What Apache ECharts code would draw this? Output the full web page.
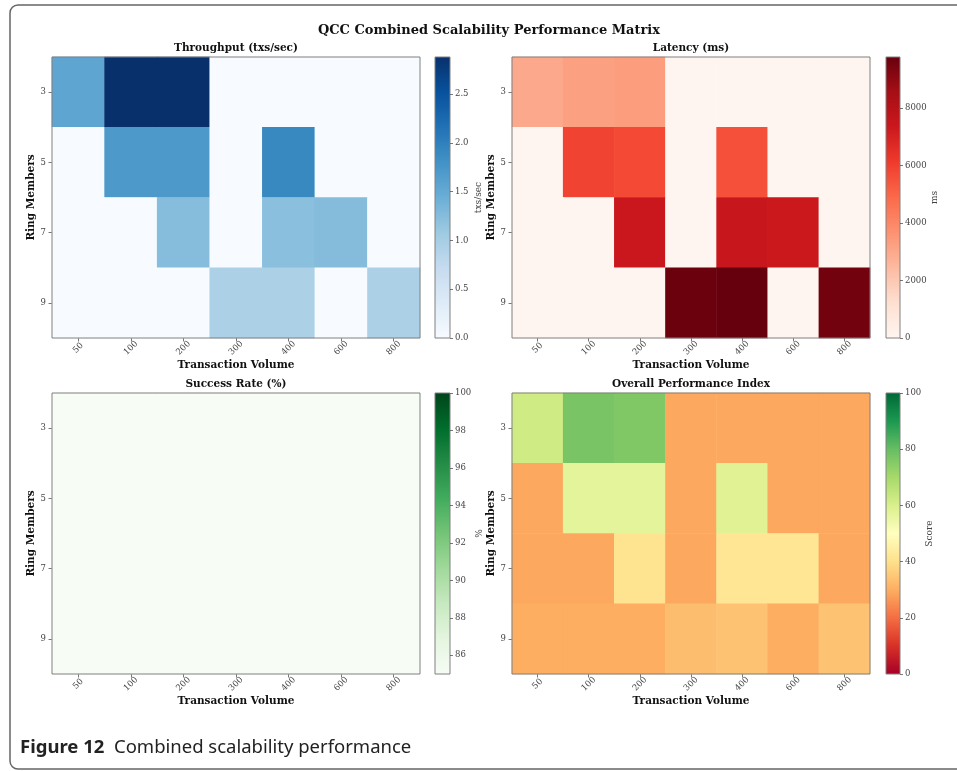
<!DOCTYPE html>
<html><head><meta charset="utf-8">
<script src="https://cdn.jsdelivr.net/npm/echarts@6/dist/echarts.min.js"></script>
<style>html,body{margin:0;padding:0;background:#fff;overflow:hidden}#c{width:957px;height:771px}</style>
</head><body><div id="c"></div>
<script>
// ---- data ----
const volumes = ['50', '100', '200', '300', '400', '600', '800'];
const ringMembers = ['3', '5', '7', '9'];
const throughput = [
  [1.55, 2.88, 2.88, 0, 0, 0, 0],
  [0, 1.70, 1.70, 0, 1.90, 0, 0],
  [0, 0, 1.25, 0, 1.22, 1.26, 0],
  [0, 0, 0, 0.95, 0.95, 0, 0.95]
];
const latency = [
  [3000, 3250, 3350, 0, 0, 0, 0],
  [0, 5900, 5750, 0, 5550, 0, 0],
  [0, 0, 7400, 0, 7450, 7350, 0],
  [0, 0, 0, 9700, 9770, 0, 9550]
];
const successRate = [
  [85, 85, 85, 85, 85, 85, 85],
  [85, 85, 85, 85, 85, 85, 85],
  [85, 85, 85, 85, 85, 85, 85],
  [85, 85, 85, 85, 85, 85, 85]
];
const performanceIndex = [
  [62, 77, 76, 29, 29, 29, 29],
  [29, 57, 57, 29, 58, 29, 29],
  [29, 29, 41, 29, 42, 42, 29],
  [30, 30, 30, 33, 34, 30, 34]
];
const throughputTicks = [0, 0.5, 1.0, 1.5, 2.0, 2.5];
const latencyTicks = [0, 2000, 4000, 6000, 8000];
const successTicks = [86, 88, 90, 92, 94, 96, 98, 100];
const indexTicks = [0, 20, 40, 60, 80, 100];

// ---- colormaps ----
const Blues = ['#f7fbff','#deebf7','#c6dbef','#9ecae1','#6baed6','#4292c6','#2171b5','#08519c','#08306b'];
const Reds = ['#fff5f0','#fee0d2','#fcbba1','#fc9272','#fb6a4a','#ef3b2c','#cb181d','#a50f15','#67000d'];
const Greens = ['#f7fcf5','#e5f5e0','#c7e9c0','#a1d99b','#74c476','#41ab5d','#238b45','#006d2c','#00441b'];
const RdYlGn = ['#a50026','#d73027','#f46d43','#fdae61','#fee08b','#ffffbf','#d9ef8b','#a6d96a','#66bd63','#1a9850','#006837'];

const FONT = '"DejaVu Serif", serif';
const panels = [
  {title: 'Throughput (txs/sec)', data: throughput, cmap: Blues, min: 0, max: 2.88, ticks: throughputTicks, fmt: v => v.toFixed(1), label: 'txs/sec',
   g: {left: 52, top: 57, width: 368, height: 281}, cb: {left: 435, top: 57, width: 15, height: 281}},
  {title: 'Latency (ms)', data: latency, cmap: Reds, min: 0, max: 9770, ticks: latencyTicks, fmt: v => String(v), label: 'ms',
   g: {left: 512, top: 57, width: 358, height: 281}, cb: {left: 886, top: 57, width: 14, height: 281}},
  {title: 'Success Rate (%)', data: successRate, cmap: Greens, min: 85, max: 100, ticks: successTicks, fmt: v => String(v), label: '%',
   g: {left: 52, top: 393, width: 368, height: 281}, cb: {left: 435, top: 393, width: 15, height: 281}},
  {title: 'Overall Performance Index', data: performanceIndex, cmap: RdYlGn, min: 0, max: 100, ticks: indexTicks, fmt: v => String(v), label: 'Score',
   g: {left: 512, top: 393, width: 358, height: 281}, cb: {left: 886, top: 393, width: 14, height: 281}}
];

function gradient(cmap) {
  return {type: 'linear', x: 0, y: 1, x2: 0, y2: 0,
    colorStops: cmap.map((c, i) => ({offset: i / (cmap.length - 1), color: c}))};
}

const grid = [], xAxis = [], yAxis = [], series = [], visualMap = [], graphic = [];
const tickStyle = {color: '#555', width: 0.8};
panels.forEach((p, i) => {
  grid.push(Object.assign({show: true, z: 5, backgroundColor: 'transparent', borderColor: '#808080', borderWidth: 1}, p.g));
  grid.push(Object.assign({show: true, backgroundColor: gradient(p.cmap), borderColor: '#808080', borderWidth: 1}, p.cb));
  xAxis.push({gridIndex: 2 * i, type: 'category', data: volumes,
    axisLine: {show: false}, splitLine: {show: false},
    axisTick: {show: true, inside: false, alignWithLabel: true, length: 3.5, lineStyle: tickStyle},
    axisLabel: {rotate: 45, align: 'center', verticalAlign: 'middle', margin: 10, fontFamily: FONT, fontSize: 8.5, color: '#444'},
    name: 'Transaction Volume', nameLocation: 'middle', nameGap: 21,
    nameTextStyle: {fontFamily: FONT, fontSize: 10.5, fontWeight: 'bold', color: '#111'}});
  xAxis.push({gridIndex: 2 * i + 1, type: 'value', show: false, min: 0, max: 1});
  yAxis.push({gridIndex: 2 * i, type: 'category', data: ringMembers, inverse: true,
    axisLine: {show: false}, splitLine: {show: false},
    axisTick: {show: true, inside: false, alignWithLabel: true, length: 3.5, lineStyle: tickStyle},
    axisLabel: {margin: 6, fontFamily: FONT, fontSize: 8.5, color: '#444'},
    name: 'Ring Members', nameLocation: 'middle', nameGap: 14, nameRotate: 90,
    nameTextStyle: {fontFamily: FONT, fontSize: 10.5, fontWeight: 'bold', color: '#111'}});
  yAxis.push({gridIndex: 2 * i + 1, type: 'value', position: 'right', min: p.min, max: p.max,
    axisLine: {show: false, onZero: false}, splitLine: {show: false},
    axisTick: {show: true, inside: false, length: 3, customValues: p.ticks, lineStyle: tickStyle},
    axisLabel: {customValues: p.ticks, formatter: p.fmt, margin: 5, fontFamily: FONT, fontSize: 8.5, color: '#444'},
    name: p.label, nameLocation: 'middle', nameGap: 24, nameRotate: 90,
    nameTextStyle: {fontFamily: FONT, fontSize: 9, color: '#444'}});
  const d = [];
  p.data.forEach((row, r) => row.forEach((v, c) => d.push([c, r, v])));
  series.push({type: 'heatmap', xAxisIndex: 2 * i, yAxisIndex: 2 * i, data: d,
    itemStyle: {borderWidth: 0}, emphasis: {disabled: true}, progressive: 0});
  visualMap.push({show: false, seriesIndex: i, dimension: 2, min: p.min, max: p.max, inRange: {color: p.cmap}});
  graphic.push({type: 'text', x: p.g.left + p.g.width / 2, y: p.g.top - 9,
    style: {text: p.title, font: 'bold 10.5px ' + FONT, fill: '#111', align: 'center', verticalAlign: 'middle', textAlign: 'center', textVerticalAlign: 'middle'}});
});

graphic.push({type: 'rect', z: -1, shape: {x: 10, y: 5, width: 2000, height: 764, r: 8},
  style: {fill: 'none', stroke: '#666', lineWidth: 1.5}});
graphic.push({type: 'text', x: 489, y: 31,
  style: {text: 'QCC Combined Scalability Performance Matrix', font: 'bold 13px ' + FONT, fill: '#111', align: 'center', verticalAlign: 'middle', textAlign: 'center', textVerticalAlign: 'middle'}});
graphic.push({type: 'text', x: 20, y: 748,
  style: {text: '{b|Figure 12}  Combined scalability performance', fontFamily: '"Noto Sans", sans-serif', fontSize: 18.5, fill: '#222',
    verticalAlign: 'middle', textVerticalAlign: 'middle',
    rich: {b: {fontFamily: '"Noto Sans", sans-serif', fontSize: 18.5, fontWeight: 'bold', fill: '#222', color: '#222'}}}});

const chart = echarts.init(document.getElementById('c'), null, {renderer: 'canvas'});
chart.setOption({animation: false, backgroundColor: '#fff', grid, xAxis, yAxis, series, visualMap, graphic});
</script></body></html>
